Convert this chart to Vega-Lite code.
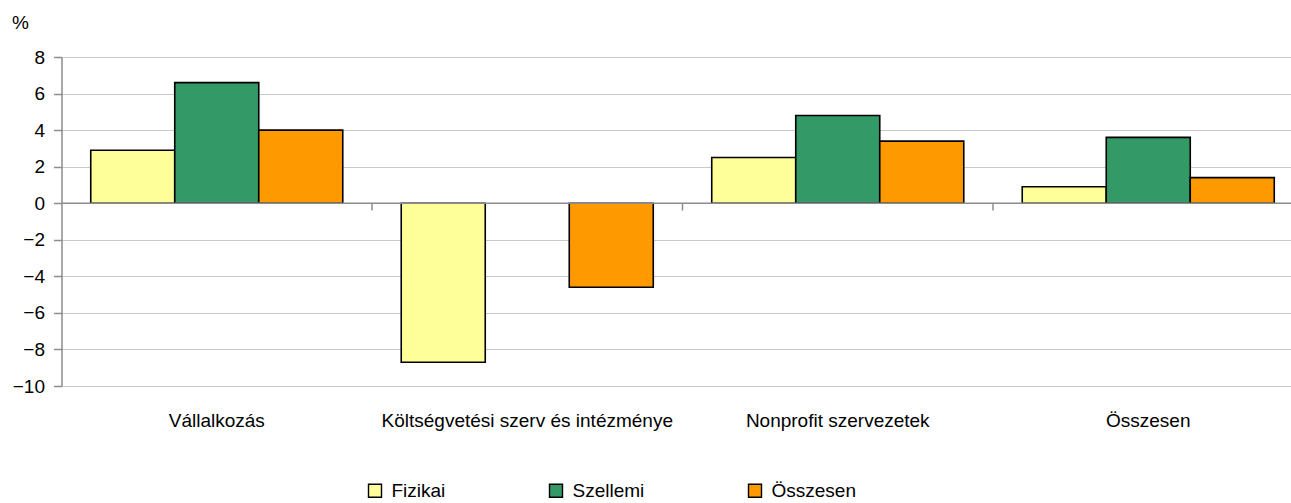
{
  "$schema": "https://vega.github.io/schema/vega-lite/v6.json",
  "width": 1242,
  "height": 329,
  "autosize": "none",
  "padding": {"left": 61.5, "top": 57, "right": 0, "bottom": 117},
  "background": "white",
  "config": {
    "font": "Liberation Sans",
    "view": {"stroke": null},
    "axis": {"labelFont": "Liberation Sans", "labelColor": "black", "titleFont": "Liberation Sans", "titleColor": "black"},
    "axisY": {"labelOverlap": false, "labelFontSize": 19},
    "legend": {"labelFont": "Liberation Sans", "labelColor": "black"}
  },
  "data": {
    "values": [
      {"kat": "Vállalkozás", "tipus": "Fizikai", "ertek": 2.9},
      {"kat": "Vállalkozás", "tipus": "Szellemi", "ertek": 6.6},
      {"kat": "Vállalkozás", "tipus": "Összesen", "ertek": 4.0},
      {"kat": "Költségvetési szerv és intézménye", "tipus": "Fizikai", "ertek": -8.7},
      {"kat": "Költségvetési szerv és intézménye", "tipus": "Szellemi", "ertek": null},
      {"kat": "Költségvetési szerv és intézménye", "tipus": "Összesen", "ertek": -4.6},
      {"kat": "Nonprofit szervezetek", "tipus": "Fizikai", "ertek": 2.5},
      {"kat": "Nonprofit szervezetek", "tipus": "Szellemi", "ertek": 4.8},
      {"kat": "Nonprofit szervezetek", "tipus": "Összesen", "ertek": 3.4},
      {"kat": "Összesen", "tipus": "Fizikai", "ertek": 0.9},
      {"kat": "Összesen", "tipus": "Szellemi", "ertek": 3.6},
      {"kat": "Összesen", "tipus": "Összesen", "ertek": 1.4}
    ]
  },
  "encoding": {
    "x": {
      "field": "kat",
      "type": "nominal",
      "sort": ["Vállalkozás", "Költségvetési szerv és intézménye", "Nonprofit szervezetek", "Összesen"],
      "scale": {"domain": ["Vállalkozás", "Költségvetési szerv és intézménye", "Nonprofit szervezetek", "Összesen"], "paddingInner": 0, "paddingOuter": 0},
      "axis": {"title": null, "domain": false, "ticks": false, "grid": false, "labelAngle": 0, "labelFontSize": 19, "labelPadding": 34, "labelBaseline": "middle", "labelLimit": 0}
    }
  },
  "layer": [
    {
      "mark": {"type": "bar", "stroke": "black", "strokeWidth": 1.6},
      "encoding": {
        "xOffset": {
          "field": "tipus",
          "type": "nominal",
          "scale": {"domain": ["Fizikai", "Szellemi", "Összesen"], "paddingInner": 0, "paddingOuter": 0.348}
        },
        "y": {
          "field": "ertek",
          "type": "quantitative",
          "scale": {"domain": [-10, 8], "nice": false, "zero": false},
          "axis": {
            "values": [-10, -8, -6, -4, -2, 0, 2, 4, 6, 8],
            "labelOverlap": false,
            "title": "%",
            "titleAngle": 0,
            "titleAlign": "left",
            "titleBaseline": "middle",
            "titleX": -50,
            "titleY": -35,
            "titleFontSize": 19,
            "titleFontWeight": "normal",
            "labelFontSize": 19,
            "labelPadding": 9,
            "labelBaseline": "middle",
            "domainColor": "#8c8c8c",
            "domainWidth": 1.5,
            "tickColor": "#8c8c8c",
            "tickWidth": 1.5,
            "tickSize": 8,
            "gridColor": "#c8c8c8",
            "gridWidth": 1.2
          }
        },
        "color": {
          "field": "tipus",
          "type": "nominal",
          "scale": {"domain": ["Fizikai", "Szellemi", "Összesen"], "range": ["#FFFF99", "#339966", "#FF9900"]},
          "legend": {
            "title": null,
            "orient": "none",
            "direction": "horizontal",
            "legendX": 304,
            "legendY": 424,
            "symbolType": "square",
            "symbolSize": 169,
            "symbolStrokeColor": "black",
            "symbolStrokeWidth": 1.4,
            "symbolOpacity": 1,
            "labelFontSize": 19,
            "labelOffset": 7,
            "columnPadding": 101
          }
        }
      }
    },
    {
      "data": {"values": [{"ertek": 0}]},
      "mark": {"type": "rule", "color": "#8c8c8c", "strokeWidth": 1.5},
      "encoding": {
        "y": {
          "field": "ertek",
          "type": "quantitative",
          "axis": {
            "values": [-10, -8, -6, -4, -2, 0, 2, 4, 6, 8],
            "labelOverlap": false,
            "title": "%",
            "titleAngle": 0,
            "titleAlign": "left",
            "titleBaseline": "middle",
            "titleX": -50,
            "titleY": -35,
            "titleFontSize": 19,
            "titleFontWeight": "normal",
            "labelFontSize": 19,
            "labelPadding": 9,
            "labelBaseline": "middle",
            "domainColor": "#8c8c8c",
            "domainWidth": 1.5,
            "tickColor": "#8c8c8c",
            "tickWidth": 1.5,
            "tickSize": 8,
            "gridColor": "#c8c8c8",
            "gridWidth": 1.2
          }
        },
        "x": null
      }
    },
    {
      "data": {"values": [
        {"kat": "Költségvetési szerv és intézménye", "ertek": 0, "b": -0.4},
        {"kat": "Nonprofit szervezetek", "ertek": 0, "b": -0.4},
        {"kat": "Összesen", "ertek": 0, "b": -0.4}
      ]},
      "mark": {"type": "rule", "color": "#8c8c8c", "strokeWidth": 1.5},
      "encoding": {
        "x": {"field": "kat", "type": "nominal", "bandPosition": 0},
        "y": {
          "field": "ertek",
          "type": "quantitative",
          "axis": {
            "values": [-10, -8, -6, -4, -2, 0, 2, 4, 6, 8],
            "labelOverlap": false,
            "title": "%",
            "titleAngle": 0,
            "titleAlign": "left",
            "titleBaseline": "middle",
            "titleX": -50,
            "titleY": -35,
            "titleFontSize": 19,
            "titleFontWeight": "normal",
            "labelFontSize": 19,
            "labelPadding": 9,
            "labelBaseline": "middle",
            "domainColor": "#8c8c8c",
            "domainWidth": 1.5,
            "tickColor": "#8c8c8c",
            "tickWidth": 1.5,
            "tickSize": 8,
            "gridColor": "#c8c8c8",
            "gridWidth": 1.2
          }
        },
        "y2": {"field": "b"}
      }
    }
  ]
}
